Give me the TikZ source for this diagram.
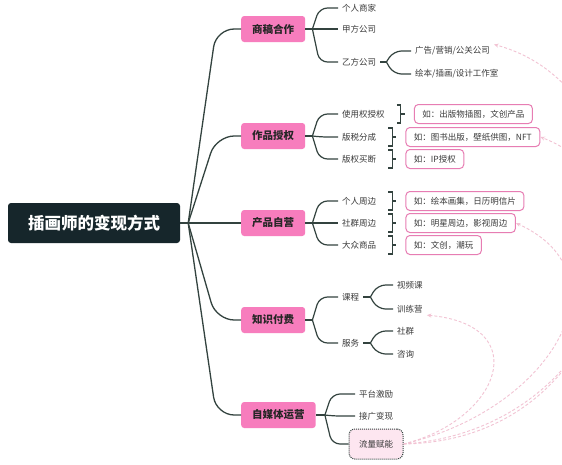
\documentclass[tikz,border=0pt]{standalone}
\usepackage{fontspec}
\setmainfont{Noto Sans CJK SC}
\usetikzlibrary{positioning,calc,arrows.meta}
\definecolor{linkgray}{HTML}{33433F}
\definecolor{rootdark}{HTML}{16262B}
\definecolor{branchpink}{HTML}{F77DBD}
\definecolor{hintpink}{HTML}{E77DB3}
\definecolor{flowpink}{HTML}{FDE6F0}
\definecolor{dashpink}{HTML}{F2C3D3}
\definecolor{leafgray}{HTML}{3A3A3A}
\tikzset{
  rootbox/.style={fill=rootdark,text=white,rounded corners=3pt,
    font=\fontsize{16.5}{18}\selectfont\bfseries,minimum width=172pt,minimum height=40pt},
  branchbox/.style={fill=branchpink,text=black!85,rounded corners=3pt,anchor=west,
    font=\fontsize{10.5}{12}\selectfont\bfseries,inner xsep=11pt,minimum height=26pt},
  leaf/.style={text=leafgray,font=\fontsize{8.5}{10}\selectfont,inner xsep=4pt,inner ysep=2pt,anchor=west},
  hintbox/.style={draw=hintpink,line width=1pt,fill=white,rounded corners=4pt,text=leafgray,
    font=\fontsize{8.5}{10}\selectfont,inner xsep=8pt,minimum height=19pt},
  flowbox/.style={draw=linkgray,densely dotted,line width=1pt,fill=flowpink,rounded corners=6pt,
    text=leafgray,font=\fontsize{8.5}{10}\selectfont,minimum width=54pt,minimum height=30pt},
  link/.style={draw=linkgray,line width=1.2pt,rounded corners=8pt},
  trunk/.style={draw=linkgray,line width=1.3pt,rounded corners=18pt},
  bracket/.style={draw=linkgray,line width=1.1pt},
  flowline/.style={draw=dashpink,dash pattern=on 3pt off 2pt,line width=0.9pt,-{Stealth[length=4.5pt,width=4pt]}}
}
% bracket + example box after a leaf
\newcommand{\hintbrk}[3]{%
  \node[hintbox,right=25pt of #1] (#2) {#3};
  \draw[bracket] ($(#1.east)+(8,-9)$) -| ($(#1.east)+(12,9)$) -- ++(-4,0);
  \draw[bracket] ($(#1.east)+(12,0)$) -- ++(4,0);
}
% fan from a hub to a child
\newcommand{\fan}[3]{\draw[link] (#1) -- (#2 |- #3.west) -- (#3.west);}
\begin{document}
\begin{tikzpicture}[x=1pt,y=-1pt]
  \useasboundingbox[fill=white] (0,0) rectangle (562,464);
  \clip (0,0) rectangle (562,464);
  % root
  \node[rootbox] (root) at (94,223) {插画师的变现方式};
  \coordinate (rh) at ($(root.east)+(8,0)$);
  \coordinate (rt) at ($(root.east)+(36,0)$);
  \node[branchbox] (sg) at (241,29) {商稿合作};
  \node[branchbox] (zp) at (241,136) {作品授权};
  \node[branchbox] (cp) at (241,223) {产品自营};
  \node[branchbox] (zs) at (241,320) {知识付费};
  \node[branchbox] (zm) at (241,415) {自媒体运营};
  \draw[trunk] (root.east) -- (rh);
  \foreach \b in {sg,zp,cp,zs,zm}
    \draw[trunk] (rh) -- (rt |- \b.west) -- (\b.west);

  % 商稿合作
  \coordinate (sg-h) at ($(sg.east)+(7,0)$);
  \coordinate (sg-t) at ($(sg.east)+(14,0)$);
  \node[leaf] (gr) at (338,8) {个人商家};
  \node[leaf] (jf) at (338,29) {甲方公司};
  \node[leaf] (yf) at (338,62) {乙方公司};
  \draw[link] (sg.east) -- (sg-h);
  \fan{sg-h}{sg-t}{gr} \fan{sg-h}{sg-t}{jf} \fan{sg-h}{sg-t}{yf}
  \coordinate (yf-h) at ($(yf.east)+(6,0)$);
  \coordinate (yf-t) at ($(yf.east)+(13,0)$);
  \node[leaf] (gg) at (411,51) {广告/营销/公关公司};
  \node[leaf] (hb) at (411,74) {绘本/插画/设计工作室};
  \draw[link] (yf.east) -- (yf-h);
  \fan{yf-h}{yf-t}{gg} \fan{yf-h}{yf-t}{hb}

  % 作品授权
  \coordinate (zp-h) at ($(zp.east)+(7,0)$);
  \coordinate (zp-t) at ($(zp.east)+(14,0)$);
  \node[leaf] (sy) at (338,114) {使用权授权};
  \node[leaf] (bs) at (338,137) {版税分成};
  \node[leaf] (bq) at (338,159) {版权买断};
  \draw[link] (zp.east) -- (zp-h);
  \fan{zp-h}{zp-t}{sy} \fan{zp-h}{zp-t}{bs} \fan{zp-h}{zp-t}{bq}
  \hintbrk{sy}{sy-x}{如：出版物插图，文创产品}
  \hintbrk{bs}{bs-x}{如：图书出版，壁纸供图，NFT}
  \hintbrk{bq}{bq-x}{如：IP授权}

  % 产品自营
  \coordinate (cp-h) at ($(cp.east)+(7,0)$);
  \coordinate (cp-t) at ($(cp.east)+(14,0)$);
  \node[leaf] (gz) at (338,201) {个人周边};
  \node[leaf] (sq) at (338,223) {社群周边};
  \node[leaf] (dz) at (338,245) {大众商品};
  \draw[link] (cp.east) -- (cp-h);
  \fan{cp-h}{cp-t}{gz} \fan{cp-h}{cp-t}{sq} \fan{cp-h}{cp-t}{dz}
  \hintbrk{gz}{gz-x}{如：绘本画集，日历明信片}
  \hintbrk{sq}{sq-x}{如：明星周边，影视周边}
  \hintbrk{dz}{dz-x}{如：文创，潮玩}

  % 知识付费
  \coordinate (zs-h) at ($(zs.east)+(7,0)$);
  \coordinate (zs-t) at ($(zs.east)+(14,0)$);
  \node[leaf] (kc) at (338,297) {课程};
  \node[leaf] (fw) at (338,343) {服务};
  \draw[link] (zs.east) -- (zs-h);
  \fan{zs-h}{zs-t}{kc} \fan{zs-h}{zs-t}{fw}
  \coordinate (kc-h) at ($(kc.east)+(7,0)$);
  \coordinate (kc-t) at ($(kc.east)+(14,0)$);
  \node[leaf] (sp) at (393,285) {视频课};
  \node[leaf] (xl) at (393,309) {训练营};
  \draw[link] (kc.east) -- (kc-h);
  \fan{kc-h}{kc-t}{sp} \fan{kc-h}{kc-t}{xl}
  \coordinate (fw-h) at ($(fw.east)+(7,0)$);
  \coordinate (fw-t) at ($(fw.east)+(14,0)$);
  \node[leaf] (sj) at (393,331) {社群};
  \node[leaf] (zx) at (393,354) {咨询};
  \draw[link] (fw.east) -- (fw-h);
  \fan{fw-h}{fw-t}{sj} \fan{fw-h}{fw-t}{zx}

  % 自媒体运营
  \coordinate (zm-h) at ($(zm.east)+(9,0)$);
  \coordinate (zm-t) at ($(zm.east)+(16,0)$);
  \node[leaf] (pt) at (355,394) {平台激励};
  \node[leaf] (jg) at (355,416) {接广变现};
  \node[flowbox] (ll) at (376,444) {流量赋能};
  \draw[link] (zm.east) -- (zm-h);
  \fan{zm-h}{zm-t}{pt} \fan{zm-h}{zm-t}{jg} \fan{zm-h}{zm-t}{ll}

  % 流量赋能 links
  \draw[flowline] (ll.east) .. controls (500,420) and (535,325) .. (xl.south east);
  \draw[flowline] (ll.east) .. controls (550,410) and (630,275) .. (sq-x.east);
  \draw[flowline] (ll.east) .. controls (610,430) and (680,190) .. (bs-x.east);
  \draw[flowline] (ll.east) .. controls (650,440) and (680,95) .. (gg.north east);
\end{tikzpicture}
\end{document}
